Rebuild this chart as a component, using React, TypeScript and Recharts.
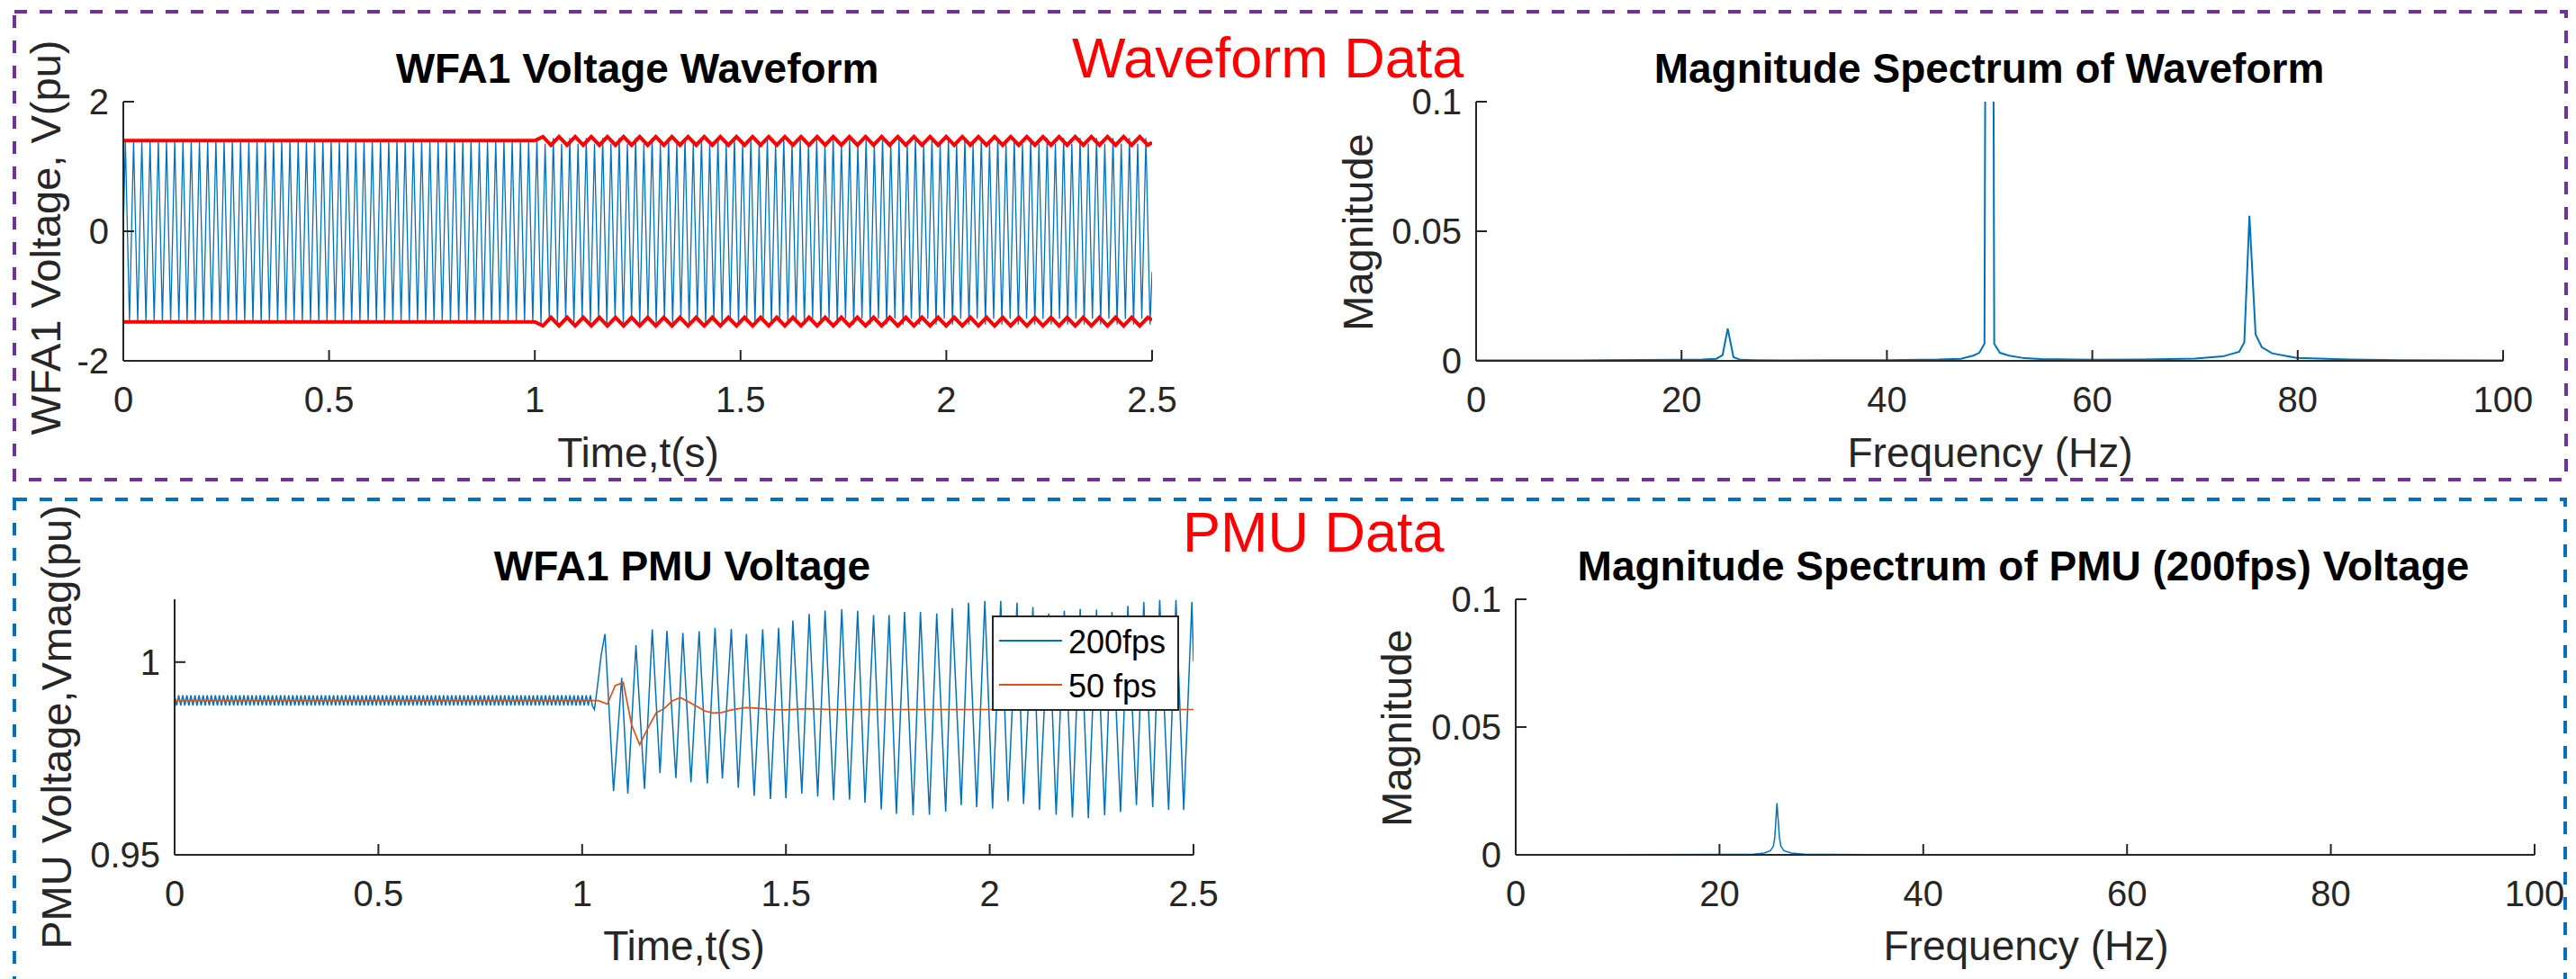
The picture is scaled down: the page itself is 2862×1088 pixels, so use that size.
import React from "react";
import { LineChart, Line, XAxis, YAxis, Legend } from "recharts";

const FONT = '"Liberation Sans", Arial, Helvetica, sans-serif';
const AXIS = "#262626";
const BLUE = "#0072BD";
const ORANGE = "#D95319";
const RED = "#FF0000";

// ---- ticks ----
const TIME_TICKS = [0, 0.5, 1, 1.5, 2, 2.5];
const FREQ_TICKS = [0, 20, 40, 60, 80, 100];
const WAVE_TICKS = [-2, 0, 2];
const MAG_TICKS = [0, 0.05, 0.1];
const PMU_TICKS = [0.95, 1];

// ---- WFA1 voltage waveform (peak of each 50 Hz cycle) ----
const WF_CYCLE = 0.02;
const WF_PRE_CYCLES = 50;
const WF_PRE_PEAK = 1.4;
const WF_POST_PEAKS = [
  1.44, 1.35, 1.44, 1.35, 1.44, 1.35, 1.44, 1.35, 1.44, 1.35,
  1.44, 1.35, 1.44, 1.35, 1.44, 1.35, 1.44, 1.35, 1.44, 1.35,
  1.44, 1.35, 1.44, 1.35, 1.44, 1.35, 1.44, 1.35, 1.44, 1.35,
  1.44, 1.35, 1.44, 1.35, 1.44, 1.35, 1.44, 1.35, 1.44, 1.35,
  1.44, 1.35, 1.44, 1.35, 1.44, 1.35, 1.44, 1.35, 1.44, 1.35,
  1.44, 1.35, 1.44, 1.35, 1.44, 1.35, 1.44, 1.35, 1.44, 1.35,
  1.44, 1.35, 1.44, 1.35, 1.44, 1.35, 1.44, 1.35, 1.44, 1.35,
  1.44, 1.35, 1.44, 1.35, 1.44,
];
const WF_END = -0.63;

// ---- red envelope ----
const ENV_PRE = 1.4;
const ENV_STEP = 0.0196;
const ENV_UP_POST = [
  1.4,
  1.46, 1.33, 1.46, 1.33, 1.46, 1.33, 1.46, 1.33, 1.46, 1.33,
  1.46, 1.33, 1.46, 1.33, 1.46, 1.33, 1.46, 1.33, 1.46, 1.33,
  1.46, 1.33, 1.46, 1.33, 1.46, 1.33, 1.46, 1.33, 1.46, 1.33,
  1.46, 1.33, 1.46, 1.33, 1.46, 1.33, 1.46, 1.33, 1.46, 1.33,
  1.46, 1.33, 1.46, 1.33, 1.46, 1.33, 1.46, 1.33, 1.46, 1.33,
  1.46, 1.33, 1.46, 1.33, 1.46, 1.33, 1.46, 1.33, 1.46, 1.33,
  1.46, 1.33, 1.46, 1.33, 1.46, 1.33, 1.46, 1.33, 1.46, 1.33,
  1.46, 1.33, 1.46, 1.33, 1.46, 1.33,
];
const ENV_LO_POST = [
  -1.4,
  -1.46, -1.33, -1.46, -1.33, -1.46, -1.33, -1.46, -1.33, -1.46, -1.33,
  -1.46, -1.33, -1.46, -1.33, -1.46, -1.33, -1.46, -1.33, -1.46, -1.33,
  -1.46, -1.33, -1.46, -1.33, -1.46, -1.33, -1.46, -1.33, -1.46, -1.33,
  -1.46, -1.33, -1.46, -1.33, -1.46, -1.33, -1.46, -1.33, -1.46, -1.33,
  -1.46, -1.33, -1.46, -1.33, -1.46, -1.33, -1.46, -1.33, -1.46, -1.33,
  -1.46, -1.33, -1.46, -1.33, -1.46, -1.33, -1.46, -1.33, -1.46, -1.33,
  -1.46, -1.33, -1.46, -1.33, -1.46, -1.33, -1.46, -1.33, -1.46, -1.33,
  -1.46, -1.33, -1.46, -1.33, -1.46, -1.33,
];
const ENV_END_UP = 1.37;
const ENV_END_LO = -1.37;

// ---- spectrum of waveform ----
const WFS_FREQ = [0, 10, 20, 22, 23.4, 24.0, 24.5, 25.06, 25.75, 27, 30, 40, 45, 47.2, 48.4, 49.0, 49.5, 50.0, 50.45, 51.0, 51.9, 53.4, 55, 60, 65, 70, 72.7, 74.3, 74.8, 75.3, 75.9, 76.5, 77.5, 79.9, 85, 90, 100];
const WFS_MAG = [0.0002, 0.0002, 0.0004, 0.0005, 0.0008, 0.0022, 0.0124, 0.0014, 0.0004, 0.0003, 0.0002, 0.0003, 0.0005, 0.0008, 0.002, 0.0031, 0.0066, 0.7, 0.0066, 0.0031, 0.002, 0.001, 0.0007, 0.0004, 0.0005, 0.0009, 0.0017, 0.0035, 0.0071, 0.056, 0.0102, 0.0053, 0.0029, 0.0011, 0.0005, 0.0003, 0.0002];

// ---- PMU 200 fps ----
const PMU_DT = 0.005;
const PMU_PRE_SAMPLES = 206;
const PMU_PRE_HI = 0.9914;
const PMU_PRE_LO = 0.9887;
const PMU200_POST: [number, number][] = [
  [1.03, 0.9877], [1.036, 0.9924], [1.047, 1.0021], [1.056, 1.0073], [1.077, 0.9665], [1.097, 0.9959],
  [1.112, 0.9659], [1.132, 1.0044], [1.153, 0.9671], [1.172, 1.0085], [1.191, 0.9712], [1.208, 1.0081],
  [1.23, 0.9699], [1.247, 1.0076], [1.267, 0.9688], [1.287, 1.008], [1.307, 0.9685], [1.326, 1.0089],
  [1.344, 0.9698], [1.366, 1.0086], [1.383, 0.9674], [1.403, 1.0073], [1.422, 0.9653], [1.443, 1.0085],
  [1.462, 0.9645], [1.482, 1.0089], [1.5, 0.9647], [1.517, 1.0108], [1.539, 0.9659], [1.557, 1.0125],
  [1.578, 0.9651], [1.596, 1.0134], [1.617, 0.9642], [1.637, 1.0137], [1.656, 0.9643], [1.676, 1.0133],
  [1.694, 0.9635], [1.715, 1.0122], [1.734, 0.9618], [1.753, 1.0122], [1.771, 0.9606], [1.791, 1.013],
  [1.812, 0.9603], [1.83, 1.013], [1.852, 0.9604], [1.87, 1.0126], [1.892, 0.9612], [1.908, 1.014],
  [1.93, 0.9629], [1.948, 1.0154], [1.968, 0.9624], [1.988, 1.0159], [2.007, 0.962], [2.027, 1.0159],
  [2.045, 0.9639], [2.067, 1.0154], [2.083, 0.9632], [2.106, 1.0143], [2.122, 0.9616], [2.145, 1.0126],
  [2.163, 0.9604], [2.183, 1.0133], [2.203, 0.9597], [2.222, 1.0138], [2.242, 0.9595], [2.262, 1.0136],
  [2.282, 0.9603], [2.3, 1.013], [2.321, 0.9611], [2.339, 1.0146], [2.36, 0.9629], [2.378, 1.0156],
  [2.4, 0.9624], [2.417, 1.0161], [2.439, 0.9616], [2.457, 1.0161], [2.476, 0.9616], [2.496, 1.0156],
  [2.5, 1.0002],
];

// ---- PMU 50 fps ----
const PMU50: [number, number][] = [
  [0, 0.99], [1.04, 0.99], [1.062, 0.9891], [1.081, 0.9939], [1.101, 0.9947], [1.121, 0.9838],
  [1.141, 0.9786], [1.162, 0.983], [1.182, 0.9869], [1.201, 0.9879], [1.221, 0.9899], [1.241, 0.9908],
  [1.261, 0.9897], [1.281, 0.9885], [1.302, 0.9873], [1.321, 0.9868], [1.342, 0.9869], [1.362, 0.9875],
  [1.383, 0.9879], [1.403, 0.9882], [1.423, 0.9881], [1.443, 0.9879], [1.464, 0.9877], [1.5, 0.9876],
  [1.552, 0.9879], [1.611, 0.9877], [2.5, 0.9877],
];

// ---- spectrum of PMU voltage ----
const PMS_FREQ = [0, 10, 20, 23.2, 24.4, 25.0, 25.29, 25.43, 25.64, 25.88, 26.02, 26.32, 27.05, 28.5, 35, 50, 100];
const PMS_MAG = [0.0001, 0.0001, 0.0002, 0.0002, 0.0007, 0.0016, 0.0034, 0.0069, 0.0202, 0.0069, 0.0034, 0.0016, 0.0007, 0.0002, 0.0001, 0.0001, 0.0001];

type Pt = { x: number; y: number };
const zip = (xs: number[], ys: number[]): Pt[] => xs.map((x, i) => ({ x, y: ys[i] }));
const pairs = (p: [number, number][]): Pt[] => p.map(([x, y]) => ({ x, y }));

const waveData: Pt[] = (() => {
  const pts: Pt[] = [{ x: 0, y: 0 }];
  for (let c = 0; c < WF_PRE_CYCLES; c++) {
    pts.push({ x: c * WF_CYCLE + 0.005, y: WF_PRE_PEAK }, { x: c * WF_CYCLE + 0.015, y: -WF_PRE_PEAK });
  }
  WF_POST_PEAKS.forEach((p, c) => {
    const t0 = 1 + c * WF_CYCLE;
    pts.push({ x: t0 + 0.005, y: p }, { x: t0 + 0.015, y: -p });
  });
  pts.push({ x: 2.5, y: WF_END });
  return pts;
})();

const envelope = (post: number[], end: number): Pt[] => [
  { x: 0, y: ENV_PRE * Math.sign(end) },
  ...post.map((v, j) => ({ x: 1 + j * ENV_STEP, y: v })),
  { x: 2.5, y: end },
];
const envUp = envelope(ENV_UP_POST, ENV_END_UP);
const envLo = envelope(ENV_LO_POST, ENV_END_LO);

const pmu200: Pt[] = [];
for (let k = 0; k < PMU_PRE_SAMPLES; k++) pmu200.push({ x: k * PMU_DT, y: k % 2 === 0 ? PMU_PRE_HI : PMU_PRE_LO });
pmu200.push(...pairs(PMU200_POST));

const tickStyle = { fontSize: 40, fill: AXIS, fontFamily: FONT };
const YW = 130;
const MT = 40;
const XH = 80;

type PanelProps = {
  plotX: number;
  plotY: number;
  plotW: number;
  plotH: number;
  mr: number;
  xDomain: [number, number];
  yDomain: [number, number];
  xTicks: number[];
  yTicks: number[];
  box?: boolean;
  children: React.ReactNode;
};

function Panel({ plotX, plotY, plotW, plotH, mr, xDomain, yDomain, xTicks, yTicks, box, children }: PanelProps) {
  return (
    <div style={{ position: "absolute", left: plotX - YW, top: plotY - MT }}>
      <LineChart width={YW + plotW + mr} height={MT + plotH + XH} margin={{ top: MT, right: mr, bottom: 0, left: 0 }}>
        <XAxis
          xAxisId="b"
          dataKey="x"
          type="number"
          domain={xDomain}
          ticks={xTicks}
          allowDataOverflow
          interval={0}
          height={XH}
          tickSize={-12}
          tickMargin={41}
          stroke={AXIS}
          axisLine={{ strokeWidth: 2 }}
          tickLine={{ strokeWidth: 2 }}
          tick={tickStyle}
        />
        {box && (
          <XAxis
            xAxisId="t"
            orientation="top"
            dataKey="x"
            type="number"
            domain={xDomain}
            ticks={xTicks}
            allowDataOverflow
            interval={0}
            height={0}
            tickSize={-12}
            stroke={AXIS}
            axisLine={{ strokeWidth: 2 }}
            tickLine={{ strokeWidth: 2 }}
            tick={false}
          />
        )}
        <YAxis
          yAxisId="l"
          type="number"
          domain={yDomain}
          ticks={yTicks}
          allowDataOverflow
          interval={0}
          width={YW}
          tickSize={-12}
          tickMargin={28}
          stroke={AXIS}
          axisLine={{ strokeWidth: 2 }}
          tickLine={{ strokeWidth: 2 }}
          tick={tickStyle}
        />
        {box && (
          <YAxis
            yAxisId="r"
            orientation="right"
            type="number"
            domain={yDomain}
            ticks={yTicks}
            allowDataOverflow
            interval={0}
            width={0}
            tickSize={-12}
            stroke={AXIS}
            axisLine={{ strokeWidth: 2 }}
            tickLine={{ strokeWidth: 2 }}
            tick={false}
          />
        )}
        {children}
      </LineChart>
    </div>
  );
}

function series(data: Pt[], color: string, width: number, name: string) {
  return (
    <Line
      key={name}
      name={name}
      xAxisId="b"
      yAxisId="l"
      data={data}
      dataKey="y"
      type="linear"
      stroke={color}
      strokeWidth={width}
      dot={false}
      activeDot={false}
      isAnimationActive={false}
    />
  );
}

function PmuLegend() {
  return (
    <svg width={208} height={106} style={{ display: "block" }}>
      <rect x={1} y={1} width={206} height={104} fill="#fff" stroke={AXIS} strokeWidth={2} />
      <line x1={8} x2={78} y1={28} y2={28} stroke={BLUE} strokeWidth={2} />
      <text x={85} y={42} fontSize={36} fontFamily={FONT} fill="#000">200fps</text>
      <line x1={8} x2={78} y1={77} y2={77} stroke={ORANGE} strokeWidth={2} />
      <text x={85} y={91} fontSize={36} fontFamily={FONT} fill="#000">50 fps</text>
    </svg>
  );
}

const T = (p: { x: number; y: number; size: number; bold?: boolean; fill?: string; anchor?: string; rot?: boolean; children: string }) => (
  <text
    transform={`translate(${p.x},${p.y})${p.rot ? " rotate(-90)" : ""}`}
    fontSize={p.size}
    fontFamily={FONT}
    fontWeight={p.bold ? "bold" : "normal"}
    fill={p.fill ?? AXIS}
    textAnchor={p.anchor ?? "middle"}
  >
    {p.children}
  </text>
);

export default function App() {
  return (
    <div style={{ position: "absolute", left: 0, top: 0, width: 2862, height: 1088, overflow: "hidden", background: "#fff" }}>
      <Panel plotX={137} plotY={113} plotW={1143} plotH={288} mr={40} xDomain={[0, 2.5]} yDomain={[-2, 2]} xTicks={TIME_TICKS} yTicks={WAVE_TICKS}>
        {series(waveData, BLUE, 1.3, "wave")}
        {series(envUp, RED, 4, "envUp")}
        {series(envLo, RED, 4, "envLo")}
      </Panel>

      <Panel plotX={1640} plotY={113} plotW={1141} plotH={288} mr={50} xDomain={[0, 100]} yDomain={[0, 0.1]} xTicks={FREQ_TICKS} yTicks={MAG_TICKS} box>
        {series(zip(WFS_FREQ, WFS_MAG), BLUE, 2, "wfs")}
      </Panel>

      <Panel plotX={194} plotY={666} plotW={1132} plotH={284} mr={40} xDomain={[0, 2.5]} yDomain={[0.95, 1.0163]} xTicks={TIME_TICKS} yTicks={PMU_TICKS}>
        {series(pmu200, BLUE, 1.5, "200fps")}
        {series(pairs(PMU50), ORANGE, 1.7, "50 fps")}
        <Legend
          layout="vertical"
          align="center"
          verticalAlign="middle"
          wrapperStyle={{ left: 1102 - (194 - YW), top: 684 - (666 - MT), width: 208, height: 106 }}
          content={() => <PmuLegend />}
        />
      </Panel>

      <Panel plotX={1684} plotY={666} plotW={1132} plotH={284} mr={40} xDomain={[0, 100]} yDomain={[0, 0.1]} xTicks={FREQ_TICKS} yTicks={MAG_TICKS} box>
        {series(zip(PMS_FREQ, PMS_MAG), BLUE, 1.5, "pms")}
      </Panel>

      <svg width={2862} height={1088} style={{ position: "absolute", left: 0, top: 0, pointerEvents: "none" }}>
        <rect x={16} y={13} width={2835} height={520} fill="none" stroke="#7030A0" strokeWidth={4} strokeDasharray="14 14" />
        <rect x={16} y={555} width={2834} height={560} fill="none" stroke="#0070C0" strokeWidth={4} strokeDasharray="14 14" />

        <T x={1191} y={86} size={63} fill={RED} anchor="start">Waveform Data</T>
        <T x={1314} y={613} size={63} fill={RED} anchor="start">PMU Data</T>

        <T x={708} y={92} size={46} bold fill="#000">WFA1 Voltage Waveform</T>
        <T x={2210} y={92} size={46} bold fill="#000">Magnitude Spectrum of Waveform</T>
        <T x={758} y={645} size={46} bold fill="#000">WFA1 PMU Voltage</T>
        <T x={2248} y={645} size={46} bold fill="#000">Magnitude Spectrum of PMU (200fps) Voltage</T>

        <T x={709} y={519} size={46}>Time,t(s)</T>
        <T x={2211} y={519} size={46}>Frequency (Hz)</T>
        <T x={760} y={1067} size={46}>Time,t(s)</T>
        <T x={2251} y={1067} size={46}>Frequency (Hz)</T>

        <T x={67} y={264} size={47} rot>WFA1 Voltage, V(pu)</T>
        <T x={1525} y={258} size={47} rot>Magnitude</T>
        <T x={79} y={808} size={47} rot>PMU Voltage,Vmag(pu)</T>
        <T x={1568} y={809} size={47} rot>Magnitude</T>
      </svg>
    </div>
  );
}
